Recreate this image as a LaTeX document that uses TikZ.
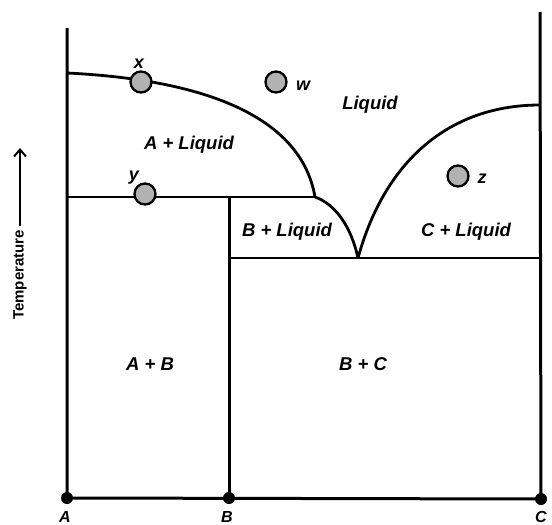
\documentclass[tikz,border=0pt]{standalone}
\usepackage{fontspec}
\setmainfont{Liberation Sans}
\usetikzlibrary{arrows.meta}
\begin{document}
\begin{tikzpicture}[x=1pt,y=-1pt,
  axis/.style={line width=3pt},
  bnd/.style={line width=2.8pt},
  lbl/.style={font=\fontsize{18.5}{20}\selectfont\bfseries\itshape, inner sep=0pt},
  ptlbl/.style={font=\fontsize{18}{20}\selectfont\bfseries\itshape, inner sep=0pt},
  pt/.style={circle, draw=black, line width=2.3pt, fill=black!30, minimum size=21pt, inner sep=0pt},
  dot/.style={circle, fill=black, minimum size=12pt, inner sep=0pt}]
\useasboundingbox (0,0) rectangle (552,525);
% coordinates
\coordinate (Atop) at (67,28);
\coordinate (Ctop) at (540,12);
\node[dot] (A) at (67,498) {};
\node[dot] (B) at (229,498) {};
\node[dot] (C) at (541,499) {};
\coordinate (Amelt) at (67,73);
\coordinate (Cmelt) at (540,105);
\coordinate (Lend) at (315,197);
\coordinate (Eut) at (358,258);
\coordinate (Bleft) at (67,197);
\coordinate (Btop) at (229,197);
\coordinate (Eright) at (540,258);
\coordinate (Eleft) at (229,258);
% axes
\draw[axis] (Atop) -- (A.center) -- (C.center) -- (Ctop);
\draw[axis] (Btop) -- (B.center);
% boundaries
\draw[bnd] (Amelt) .. controls (190,79) and (300,110) .. (Lend);
\draw[bnd] (Lend) .. controls (335,204) and (351,226) .. (Eut);
\draw[bnd] (Eut) .. controls (385,160) and (450,105) .. (Cmelt);
\draw[bnd] (Bleft) -- (Lend);
\draw[bnd] (Eleft) -- (Eright);
% points
\node[pt] (px) at (141,82) {};
\node[pt] (py) at (145,194) {};
\node[pt] (pw) at (276,82) {};
\node[pt] (pz) at (458,176) {};
\node[ptlbl] (lx) at (139,64) {x};
\node[ptlbl] (ly) at (134,178) {y};
\node[ptlbl] (lw) at (303,86) {w};
\node[ptlbl] (lz) at (482,179) {z};
% region labels
\node[lbl] (liq) at (370,105) {Liquid};
\node[lbl] (aliq) at (189,145) {A + Liquid};
\node[lbl] (bliq) at (287,232) {B + Liquid};
\node[lbl] (cliq) at (466,232) {C + Liquid};
\node[lbl] (ab) at (150,364) {A + B};
\node[lbl] (bc) at (363,364) {B + C};
% component labels
\node[lbl, font=\fontsize{16}{18}\selectfont\bfseries\itshape, anchor=north] (lA) at (65,511) {A};
\node[lbl, font=\fontsize{16}{18}\selectfont\bfseries\itshape, anchor=north] (lB) at (227,511) {B};
\node[lbl, font=\fontsize{16}{18}\selectfont\bfseries\itshape, anchor=north] (lC) at (541,511) {C};
% temperature
\node[font=\fontsize{15}{17}\selectfont\bfseries, rotate=90, inner sep=0pt] (temp) at (20,275) {Temperature};
\coordinate (tarr) at (20,148);
\draw[line width=2.2pt, -{Straight Barb[length=7pt,width=12pt,line width=2pt]}] (20,226) -- (tarr);
\end{tikzpicture}
\end{document}
